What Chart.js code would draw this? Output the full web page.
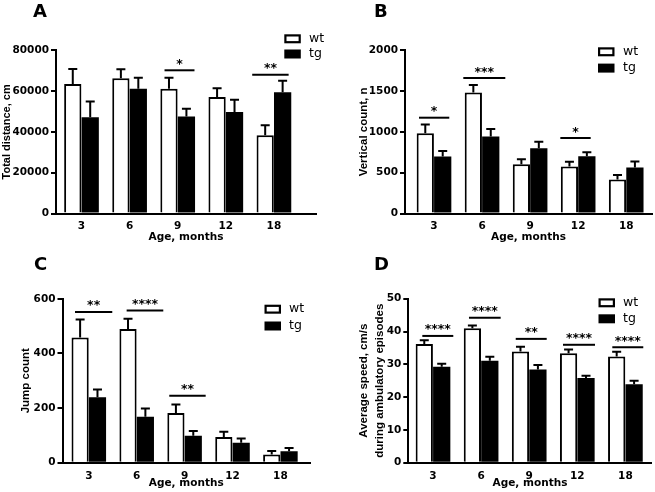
<!DOCTYPE html>
<html><head><meta charset="utf-8">
<script src="https://cdn.jsdelivr.net/npm/chart.js@4.4.1/dist/chart.umd.min.js"></script>
<style>
html,body{margin:0;padding:0;background:#fff;}
#wrap{position:relative;width:655px;height:492px;overflow:hidden;background:#fff;}
canvas{position:absolute;}
</style></head><body>
<div id="wrap">
<canvas id="cA" width="327" height="245" style="left:0;top:0"></canvas>
<canvas id="cB" width="328" height="245" style="left:327px;top:0"></canvas>
<canvas id="cC" width="327" height="247" style="left:0;top:245px"></canvas>
<canvas id="cD" width="328" height="247" style="left:327px;top:245px"></canvas>
</div>
<script>
// ---------- data ----------
const ages = ['3', '6', '9', '12', '18'];
const groupNames = ['wt', 'tg'];
const xTitle = 'Age, months';

// A: total distance
const distWt = [63500, 66300, 61200, 57100, 38400];
const distWtSem = [7350, 4400, 5400, 4250, 4900];
const distTg = [47200, 61200, 47500, 49800, 59400];
const distTgSem = [7700, 5400, 3900, 6000, 5700];
const distTicks = [0, 20000, 40000, 60000, 80000];
const distSigAge = ['9', '18'];
const distSigY = [70200, 68050];
const distSigMark = ['*', '**'];

// B: vertical count
const vertWt = [984, 1482, 604, 576, 416];
const vertWtSem = [106, 94, 61, 57, 57];
const vertTg = [698, 943, 800, 702, 563];
const vertTgSem = [69, 94, 78, 49, 74];
const vertTicks = [0, 500, 1000, 1500, 2000];
const vertSigAge = ['3', '6', '12'];
const vertSigY = [1174, 1660, 925];
const vertSigMark = ['*', '***', '*'];

// C: jump count
const jumpWt = [458, 489, 182, 94, 30];
const jumpWtSem = [66, 38, 31, 19, 13];
const jumpTg = [240, 168, 99, 73, 42];
const jumpTgSem = [28, 30, 17, 16, 12];
const jumpTicks = [0, 200, 400, 600];
const jumpSigAge = ['3', '6', '9'];
const jumpSigY = [552, 557, 245];
const jumpSigMark = ['**', '****', '**'];

// D: average speed
const speedWt = [36.2, 41.0, 33.9, 33.4, 32.4];
const speedWtSem = [1.1, 0.8, 1.45, 1.15, 1.4];
const speedTg = [29.25, 31.05, 28.45, 25.8, 23.9];
const speedTgSem = [0.9, 1.25, 1.3, 0.7, 1.05];
const speedTicks = [0, 10, 20, 30, 40, 50];
const speedSigAge = ['3', '6', '9', '12', '18'];
const speedSigY = [38.65, 44.2, 37.75, 35.95, 35.2];
const speedSigMark = ['****', '****', '**', '****', '****'];

// ---------- layout / style ----------
const panels = [
  { id: 'cA', letter: 'A', w: 327, h: 245, axisX: 56, top: 50.3, bottom: 213.5, right: 316,
    xmin: 0.47, xmax: 5.875, ymax: 80000, ticks: distTicks,
    wt: distWt, wtSem: distWtSem, tg: distTg, tgSem: distTgSem,
    sigAge: distSigAge, sigY: distSigY, sigMark: distSigMark,
    sigSpan: [[-0.274, 0.349], [-0.451, 0.306]],
    yTitle: 'Total distance, cm', yTitleSize: 11, yTitleLH: 1.2, yTitlePad: 0,
    xLabPad: 6.0, xTitlePad: 1.7,
    legX: 284.3, legY: [34.3, 49.5], legTextX: 309, letterX: 33, letterY: 16.7 },
  { id: 'cB', letter: 'B', w: 328, h: 245, axisX: 78, top: 50.3, bottom: 213.5, right: 325,
    xmin: 0.3965, xmax: 5.537, ymax: 2000, ticks: vertTicks,
    wt: vertWt, wtSem: vertWtSem, tg: vertTg, tgSem: vertTgSem,
    sigAge: vertSigAge, sigY: vertSigY, sigMark: vertSigMark,
    sigSpan: [[-0.312, 0.318], [-0.39, 0.484], [-0.371, 0.261]],
    yTitle: 'Vertical count, n', yTitleSize: 11.5, yTitleLH: 1.2, yTitlePad: 29.8,
    xLabPad: 6.3, xTitlePad: 1.7,
    legX: 271, legY: [47.3, 63.6], legTextX: 296, letterX: 47, letterY: 16.7 },
  { id: 'cC', letter: 'C', w: 327, h: 247, axisX: 62.5, top: 53.8, bottom: 217.7, right: 310,
    xmin: 0.451, xmax: 5.618, ymax: 600, ticks: jumpTicks,
    wt: jumpWt, wtSem: jumpWtSem, tg: jumpTg, tgSem: jumpTgSem,
    sigAge: jumpSigAge, sigY: jumpSigY, sigMark: jumpSigMark,
    sigSpan: [[-0.288, 0.49], [-0.21, 0.555], [-0.32, 0.44]],
    yTitle: 'Jump count', yTitleSize: 11.5, yTitleLH: 1.2, yTitlePad: 19,
    xLabPad: 7, xTitlePad: 2,
    legX: 264.5, legY: [59.7, 76.5], legTextX: 289, letterX: 34, letterY: 25 },
  { id: 'cD', letter: 'D', w: 328, h: 247, axisX: 81.3, top: 53.7, bottom: 217.7, right: 324.7,
    xmin: 0.4865, xmax: 5.547, ymax: 50, ticks: speedTicks,
    wt: speedWt, wtSem: speedWtSem, tg: speedTg, tgSem: speedTgSem,
    sigAge: speedSigAge, sigY: speedSigY, sigMark: speedSigMark,
    sigSpan: [[-0.222, 0.422], [-0.252, 0.407], [-0.28, 0.364], [-0.297, 0.368], [-0.272, 0.372]],
    yTitle: ['Average speed, cm/s', 'during ambulatory episodes'], yTitleSize: 11.5, yTitleLH: 1.365, yTitlePad: 29.4,
    xLabPad: 7, xTitlePad: 2,
    legX: 271.5, legY: [53.3, 69.3], legTextX: 296, letterX: 47, letterY: 25 }
];

Chart.defaults.font.family = 'DejaVu Sans';
Chart.defaults.color = '#000';

const tickFont = { family: 'DejaVu Sans', weight: 'bold', size: 10.5 };

function makeDeco(p) {
  return {
    id: 'deco' + p.letter,
    afterDatasetsDraw(chart) {
      const ctx = chart.ctx, ys = chart.scales.y;
      ctx.save();
      ctx.strokeStyle = '#000';
      ctx.lineWidth = 2;
      chart.data.datasets.forEach((ds, di) => {
        const meta = chart.getDatasetMeta(di);
        meta.data.forEach((bar, i) => {
          const topPx = ys.getPixelForValue(ds.data[i].y + ds.sem[i]);
          ctx.beginPath();
          ctx.moveTo(bar.x, bar.y);
          ctx.lineTo(bar.x, topPx - 1);
          ctx.moveTo(bar.x - 4.5, topPx);
          ctx.lineTo(bar.x + 4.5, topPx);
          ctx.stroke();
        });
      });
      ctx.restore();
    },
    afterDraw(chart) {
      const ctx = chart.ctx, xs = chart.scales.x, ys = chart.scales.y;
      ctx.save();
      // significance bars
      ctx.strokeStyle = '#000';
      ctx.fillStyle = '#000';
      ctx.lineWidth = 2;
      ctx.font = 'bold 12.5px "DejaVu Sans"';
      ctx.textAlign = 'center';
      ctx.textBaseline = 'alphabetic';
      p.sigAge.forEach((a, k) => {
        const pos = ages.indexOf(a) + 1;
        const x1 = xs.getPixelForValue(pos + p.sigSpan[k][0]);
        const x2 = xs.getPixelForValue(pos + p.sigSpan[k][1]);
        const y = ys.getPixelForValue(p.sigY[k]);
        ctx.beginPath();
        ctx.moveTo(x1, y);
        ctx.lineTo(x2, y);
        ctx.stroke();
        ctx.fillText(p.sigMark[k], (x1 + x2) / 2, y - 2.5);
      });
      // legend
      ctx.font = '12.5px "DejaVu Sans"';
      ctx.textAlign = 'left';
      ctx.textBaseline = 'middle';
      chart.data.datasets.forEach((ds, di) => {
        const bx = p.legX, by = p.legY[di], bw = 16.5, bh = 9;
        if (ds.backgroundColor === '#fff') {
          ctx.fillStyle = '#fff';
          ctx.fillRect(bx, by, bw, bh);
          ctx.lineWidth = 2.2;
          ctx.strokeStyle = '#000';
          ctx.strokeRect(bx + 1.1, by + 1.1, bw - 2.2, bh - 2.2);
        } else {
          ctx.fillStyle = '#000';
          ctx.fillRect(bx, by, bw, bh);
        }
        ctx.fillStyle = '#000';
        ctx.fillText(ds.label, p.legTextX, by + bh / 2);
      });
      // panel letter
      ctx.font = 'bold 18px "DejaVu Sans"';
      ctx.textBaseline = 'alphabetic';
      ctx.textAlign = 'left';
      ctx.fillText(p.letter, p.letterX, p.letterY);
      ctx.restore();
    }
  };
}

panels.forEach(p => {
  const toPts = arr => arr.map((v, i) => ({ x: i + 1, y: v }));
  new Chart(document.getElementById(p.id), {
    type: 'bar',
    data: {
      datasets: [
        { label: groupNames[0], data: toPts(p.wt), sem: p.wtSem,
          backgroundColor: '#fff', borderColor: '#000', borderWidth: 2 },
        { label: groupNames[1], data: toPts(p.tg), sem: p.tgSem,
          backgroundColor: '#000', borderColor: '#000', borderWidth: 0 }
      ]
    },
    options: {
      responsive: false,
      animation: false,
      devicePixelRatio: 1,
      layout: { padding: { left: 0, top: p.top, right: p.w - p.right, bottom: 0 } },
      plugins: { legend: { display: false }, tooltip: { enabled: false } },
      datasets: { bar: { categoryPercentage: 0.725, barPercentage: 0.99 } },
      scales: {
        x: {
          type: 'linear', min: p.xmin, max: p.xmax, offset: false, z: 1,
          afterBuildTicks: s => { s.ticks = ages.map((a, i) => ({ value: i + 1 })); },
          afterFit: s => { s.height = p.h - p.bottom; },
          ticks: { callback: v => ages[v - 1], color: '#000', font: tickFont,
                   padding: p.xLabPad, maxRotation: 0, autoSkip: false },
          grid: { display: false, drawTicks: false, tickLength: 0, offset: false },
          border: { display: true, color: '#000', width: 2 },
          title: { display: true, text: xTitle, color: '#000', font: tickFont,
                   padding: { top: 0, bottom: p.xTitlePad } }
        },
        y: {
          type: 'linear', min: 0, max: p.ymax, z: 1,
          afterBuildTicks: s => { s.ticks = p.ticks.map(v => ({ value: v })); },
          afterFit: s => { s.width = p.axisX; },
          ticks: { callback: v => String(v), color: '#000', font: tickFont, padding: 2 },
          grid: { drawOnChartArea: false, drawTicks: true, tickLength: 5, color: '#000', lineWidth: 2 },
          border: { display: true, color: '#000', width: 2 },
          title: { display: true, text: p.yTitle, color: '#000',
                   font: { family: 'Liberation Sans', weight: 'bold', size: p.yTitleSize, lineHeight: p.yTitleLH },
                   padding: { top: p.yTitlePad, bottom: 0 } }
        }
      }
    },
    plugins: [makeDeco(p)]
  });
});
</script>
</body></html>
